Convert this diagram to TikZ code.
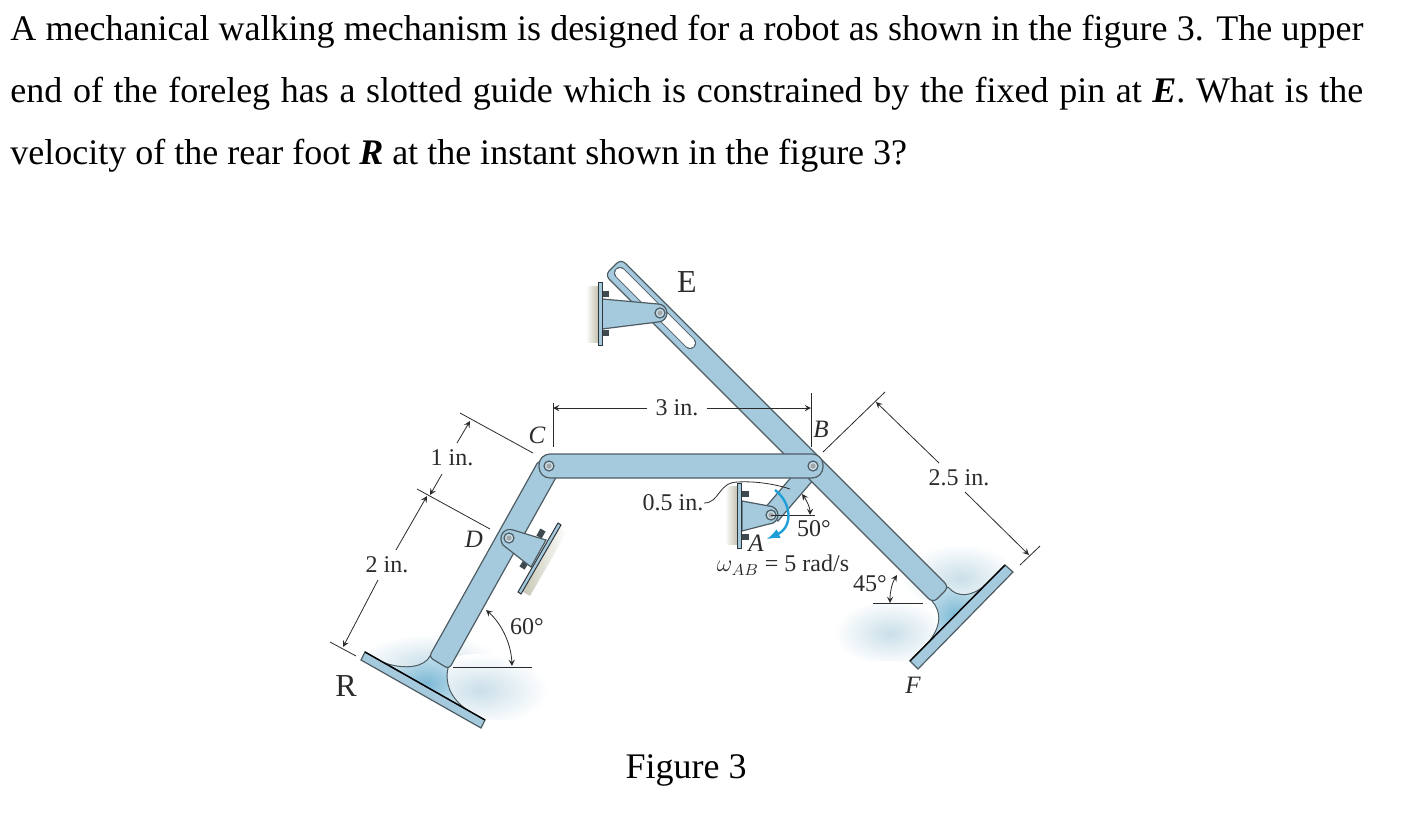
\documentclass[tikz,border=0pt]{standalone}
\usepackage{fontspec}
\setmainfont{Liberation Serif}
\definecolor{barblue}{HTML}{A5CADD}
\definecolor{edgegray}{HTML}{4E5C64}
\definecolor{footdark}{HTML}{7DB9D6}
\definecolor{footpale}{HTML}{C4DFEB}
\definecolor{blobblue}{HTML}{CADFE9}
\definecolor{wallgray}{HTML}{C4C3B0}
\definecolor{spinblue}{HTML}{1E9FD8}
\definecolor{dimgray}{HTML}{2B2B2B}
\tikzset{
	linkpart/.style={draw=edgegray, fill=barblue, line width=0.6pt},
	footpart/.style={draw=edgegray, line width=0.5pt, inner color=footdark, outer color=footpale},
	wallplate/.style={fill=barblue, draw=edgegray!60!black, line width=0.5pt},
	dimline/.style={draw=dimgray, line width=0.4pt, >=stealth},
	bodytext/.style={anchor=base west, inner sep=0pt, font=\fontsize{18}{20}\selectfont},
	dimtext/.style={inner sep=0pt, text=dimgray, font=\fontsize{12}{14}\selectfont},
	parttext/.style={inner sep=0pt, text=dimgray, font=\fontsize{12.5}{14}\selectfont\itshape},
	pointtext/.style={inner sep=0pt, text=dimgray, font=\fontsize{16}{18}\selectfont}
}
\def\pinjoint(#1,#2){\draw[edgegray, fill=footpale, line width=0.6pt] (#1,#2) circle (5); \fill[gray!70] (#1,#2) circle (2.6);}
\def\bolthead(#1,#2)(#3,#4){\draw[edgegray!80!black, line width=3pt] (#1,#2) -- (#3,#4);}

\begin{document}
\begin{tikzpicture}[x=0.5pt, y=-0.5pt]
	%%%%% START %%%%%
	\useasboundingbox (0, 0) rectangle (1415, 814);

	% question text
	\node[bodytext] (line1) at (10, 40) {\makebox[676.5pt][s]{A mechanical walking mechanism is designed for a robot as shown in the figure 3. The upper}};
	\node[bodytext] (line2) at (10, 102) {\makebox[676.5pt][s]{end of the foreleg has a slotted guide which is constrained by the fixed pin at \textbf{\textit{E}}. What is the}};
	\node[bodytext] (line3) at (10, 164) {velocity of the rear foot \textbf{\textit{R}} at the instant shown in the figure 3?};
	\node[bodytext, anchor=center] (caption) at (686, 770) {Figure 3};

	% shadows on the ground
	\begin{scope}
		\clip (365, 652) -- (485, 720) -- (570, 720) -- (570, 620) -- (365, 620) -- cycle;
		\shade[inner color=blobblue, outer color=white] (428, 664) ellipse (72 and 30);
		\shade[inner color=blobblue, outer color=white] (480, 690) ellipse (68 and 36);
	\end{scope}
	\begin{scope}
		\clip (1005, 565) -- (910, 661) -- (830, 661) -- (830, 600) -- (900, 540) -- (1015, 540) -- cycle;
		\shade[inner color=blobblue, outer color=white] (960, 578) ellipse (58 and 34);
		\shade[inner color=blobblue, outer color=white] (890, 633) ellipse (56 and 33);
	\end{scope}

	% walls behind the brackets
	\shade[left color=white, right color=wallgray] (586, 286) rectangle (598, 342);
	\shade[left color=white, right color=wallgray] (725, 486) rectangle (737, 544);
	\shade[shading angle=-60, left color=wallgray, right color=white] (557, 526) -- (520, 590) -- (530, 596) -- (567, 532) -- cycle;

	% rear foot
	\shadedraw[footpart] (430, 656) .. controls (425, 667) and (405, 670) .. (385, 663) -- (467, 710) .. controls (449, 697) and (445, 682) .. (448, 668) -- cycle;
	\draw[linkpart] (365, 652) -- (485, 720) -- (481, 728) -- (361, 660) -- cycle;
	\draw[black, line width=0.7pt] (365, 652) -- (485, 720);

	% front foot
	\shadedraw[footpart] (948, 587) .. controls (957, 598) and (972, 597) .. (985, 585) -- (925, 646) .. controls (942, 628) and (942, 612) .. (932, 601) -- cycle;
	\draw[linkpart] (1005, 565) -- (1013, 572) -- (918, 669) -- (910, 661) -- cycle;
	\draw[black, line width=0.7pt] (1005, 565) -- (910, 661);

	% crank AB
	\draw[linkpart] (778, 521) -- (820, 472) -- (806, 460) -- (764, 509) -- cycle;

	% foreleg with slot
	\draw[linkpart, rounded corners=3pt] (621, 259) -- (949, 587) -- (933, 603) -- (605, 275) -- cycle;
	\draw[edgegray, line width=6pt, line cap=round] (620, 273) -- (690, 343);
	\draw[white, line width=5pt, line cap=round] (620, 273) -- (690, 343);

	% rear leg
	\draw[linkpart, rounded corners=2pt] (539, 460) -- (559, 472) -- (449, 669) -- (429, 657) -- cycle;

	% coupler CB
	\draw[linkpart, rounded corners=5.5pt] (539, 454) -- (823, 454) -- (823, 478) -- (539, 478) -- cycle;

	% bracket at E
	\bolthead(602, 294)(609, 294)
	\bolthead(602, 333)(609, 333)
	\draw[linkpart] (602, 299) -- (658, 304) arc (-90:90:9) -- (602, 329) -- cycle;
	\draw[wallplate] (598, 282) rectangle (602, 345);

	% bracket at A
	\bolthead(742, 494)(749, 494)
	\bolthead(742, 537)(749, 537)
	\draw[linkpart] (742, 501) -- (769, 506) arc (-90:90:9) -- (742, 531) -- cycle;
	\draw[wallplate] (737, 483) rectangle (741, 548);

	% bracket at D
	\bolthead(543, 530)(539, 537)
	\bolthead(527, 560)(522, 568)
	\draw[linkpart] (513, 530) -- (546, 540) -- (531, 567) -- (503, 545) .. controls (497, 536) and (505, 527) .. (513, 530) -- cycle;
	\draw[wallplate] (558, 523) -- (561, 525) -- (521, 594) -- (518, 592) -- cycle;

	\pinjoint(660, 313)
	\pinjoint(771, 515)
	\pinjoint(509, 538)
	\pinjoint(549, 466)
	\pinjoint(813, 466)

	% dimension 3 in.
	\node[dimtext] (threein) at (677, 408) {3 in.};
	\draw[dimline] (553, 403) -- (553, 447);
	\draw[dimline] (811, 393) -- (811, 447);
	\draw[dimline, ->] (threein.west) ++(-8, 0) -- (553, 408);
	\draw[dimline, ->] (threein.east) ++(8, 0) -- (811, 408);

	% dimensions 1 in. and 2 in.
	\node[dimtext] (onein) at (452, 458) {1 in.};
	\node[dimtext] (twoin) at (387, 565) {2 in.};
	\draw[dimline] (460, 413) -- (533, 453);
	\draw[dimline] (417, 489) -- (490, 529);
	\draw[dimline] (330, 642) -- (356, 656);
	\draw[dimline, ->] (457, 443) -- (470, 421);
	\draw[dimline, ->] (442, 474) -- (430, 495);
	\draw[dimline, ->] (396, 550) -- (427, 496);
	\draw[dimline, ->] (378, 580) -- (343, 647);

	% dimension 2.5 in.
	\node[dimtext] (twohalfin) at (959, 478) {2.5 in.};
	\draw[dimline] (823, 452) -- (885, 392);
	\draw[dimline] (1020, 565) -- (1040, 546);
	\draw[dimline, ->] (939, 463) -- (876, 402);
	\draw[dimline, ->] (965, 492) -- (1029, 555);

	% dimension 0.5 in.
	\node[dimtext] (halfin) at (673, 503) {0.5 in.};
	\draw[dimline] (704, 503) .. controls (720, 503) and (718, 482) .. (738, 482) .. controls (755, 481) and (775, 484) .. (790, 489);

	% angles
	\node[dimtext] (sixty) at (527, 627) {60°};
	\draw[dimline] (453, 667) -- (532, 667);
	\draw[dimline, <->] (486, 610) .. controls (500, 622) and (511, 642) .. (512, 666);
	\node[dimtext] (fifty) at (814, 529) {50°};
	\draw[dimline] (771, 515) -- (815, 515);
	\draw[dimline, <->] (802, 494) .. controls (807, 501) and (810, 508) .. (810, 515);
	\node[dimtext] (fortyfive) at (870, 584) {45°};
	\draw[dimline] (873, 603) -- (923, 603);
	\draw[dimline, <->] (897, 575) .. controls (892, 583) and (890, 592) .. (890, 603);

	% angular velocity
	\draw[spinblue, line width=1.2pt, -latex] (775, 490) .. controls (792, 503) and (793, 527) .. (767, 539);
	\node[dimtext] (omega) at (783, 565) {$\omega_{AB}$ = 5 rad/s};

	% point labels
	\node[pointtext] (labelE) at (687, 282) {E};
	\node[pointtext] (labelR) at (346, 686) {R};
	\node[parttext] (labelC) at (537, 435) {C};
	\node[parttext] (labelB) at (821, 429) {B};
	\node[parttext] (labelD) at (474, 539) {D};
	\node[parttext] (labelA) at (756, 543) {A};
	\node[parttext] (labelF) at (913, 685) {F};

	%%%%% END %%%%%
\end{tikzpicture}
\end{document}
